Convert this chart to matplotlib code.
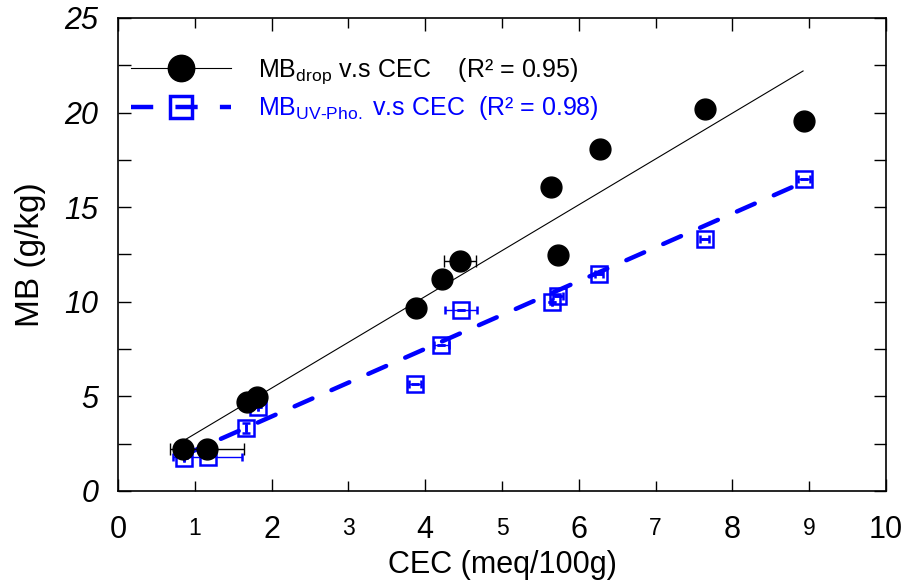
import numpy as np
import matplotlib
matplotlib.use('Agg')
import matplotlib.pyplot as plt
from matplotlib.ticker import MultipleLocator, FixedLocator, FixedFormatter
from matplotlib.lines import Line2D

plt.rcParams['font.family'] = ['Liberation Sans', 'DejaVu Sans']
plt.rcParams['mathtext.fontset'] = 'custom'
plt.rcParams['mathtext.rm'] = 'Liberation Sans'
plt.rcParams['mathtext.it'] = 'Liberation Sans:italic'
plt.rcParams['lines.scale_dashes'] = False

#--------- data ---------
cec_drop = [0.85, 1.16, 1.68, 1.81, 3.88, 4.22, 4.45, 5.64, 5.73, 6.28, 7.64, 8.93]
mb_drop  = [2.22, 2.22, 4.70, 4.97, 9.67, 11.2, 12.16, 16.07, 12.47, 18.08, 20.19, 19.56]
xerr_drop = [0.0, 0.48, 0.0, 0.0, 0.0, 0.0, 0.21, 0.0, 0.0, 0.0, 0.0, 0.0]

cec_uv = [0.86, 1.17, 1.67, 1.82, 3.87, 4.21, 4.47, 5.65, 5.73, 6.26, 7.64, 8.93]
mb_uv  = [1.74, 1.80, 3.33, 4.44, 5.66, 7.72, 9.57, 9.99, 10.31, 11.47, 13.32, 16.49]
xerr_uv = [0.0, 0.45, 0.0, 0.0, 0.08, 0.10, 0.21, 0.0, 0.06, 0.05, 0.06, 0.08]
yerr_uv = [0.0, 0.0, 0.25, 0.0, 0.0, 0.0, 0.0, 0.0, 0.0, 0.0, 0.0, 0.0]

# fitted lines, end points
fit_x = [0.87, 8.92]
fit_drop = [2.70, 22.2]
fit_uv_x = [0.86, 8.93]
fit_uv = [1.90, 16.33]

xt_even = [0, 2, 4, 6, 8, 10]
xt_odd = [1, 3, 5, 7, 9]

lab_drop = r'MB$_{\mathrm{drop}}$ v.s CEC    (R² = 0.95)'
lab_uv = r'MB$_{\mathrm{UV\text{-}Pho.}}$ v.s CEC  (R² = 0.98)'

#--------- plot ---------
fig = plt.figure(figsize=(9.04, 5.87), dpi=100)
ax = fig.add_axes([118/904, 1-491/587, (886-118)/904, (491-18)/587])

blue = '#0000ff'

ax.plot(fit_x, fit_drop, '-', color='k', lw=0.8, zorder=2)
ax.plot(fit_uv_x, fit_uv, '-', color=blue, lw=3.2, dashes=(14, 15),
        solid_capstyle='round', dash_capstyle='round', zorder=2)

ax.errorbar(cec_uv, mb_uv, xerr=xerr_uv, yerr=yerr_uv, fmt='s', ms=11,
            mfc='none', mec=blue, mew=1.8, ecolor=blue, elinewidth=1,
            capsize=3, capthick=1, zorder=3)
ax.errorbar(cec_drop, mb_drop, xerr=xerr_drop, fmt='o', ms=15,
            mfc='k', mec='k', ecolor='k', elinewidth=1,
            capsize=4, capthick=1, zorder=4)

ax.set_xlim(0, 10)
ax.set_ylim(0, 25)

ax.xaxis.set_major_locator(FixedLocator(xt_even))
ax.xaxis.set_minor_locator(FixedLocator(xt_odd))
ax.xaxis.set_minor_formatter(FixedFormatter([str(v) for v in xt_odd]))
ax.yaxis.set_major_locator(MultipleLocator(5))
ax.yaxis.set_minor_locator(MultipleLocator(2.5))

ax.tick_params(axis='x', which='major', direction='in', top=True, length=9,
               width=1, labelsize=22, pad=17)
ax.tick_params(axis='x', which='minor', direction='in', top=True, length=7,
               width=1, labelsize=16.5, pad=19)
ax.tick_params(axis='y', which='both', direction='in', right=True, length=9,
               width=1, labelsize=22, pad=14)
for t in ax.get_yticklabels():
    t.set_fontstyle('italic')

for s in ax.spines.values():
    s.set_linewidth(1.2)

ax.set_xlabel('CEC (meq/100g)', fontsize=22, labelpad=4)
ax.set_ylabel('MB (g/kg)', fontsize=24, labelpad=13)

h1 = Line2D([], [], color='k', lw=0.8, marker='o', ms=19, mfc='k', mec='k')
h2 = Line2D([], [], color=blue, lw=3.2, dashes=(16, 16), marker='s', ms=16,
            mfc='none', mec=blue, mew=2.5)
leg = ax.legend([h1, h2], [lab_drop, lab_uv], loc='upper left',
                bbox_to_anchor=(13/768, 1-38/473), borderpad=0, borderaxespad=0,
                frameon=False, fontsize=18, handlelength=4.0, handletextpad=1.1,
                labelspacing=0.35)
leg.get_texts()[1].set_color(blue)

fig.savefig('out.png', dpi=100)
